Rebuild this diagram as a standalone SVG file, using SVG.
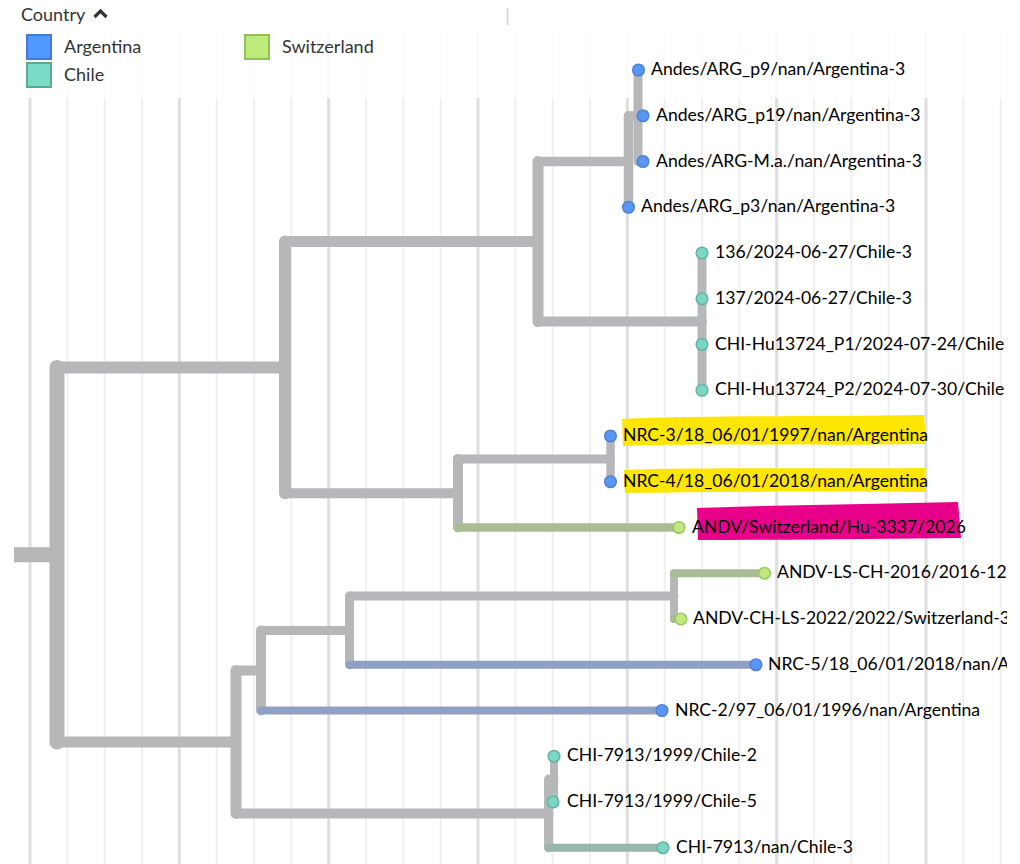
<svg xmlns="http://www.w3.org/2000/svg" width="1020" height="864" viewBox="0 0 1020 864">
<style>
.gmin{stroke:#efefef;stroke-width:2}
.gmaj{stroke:#dedede;stroke-width:3}
.br{fill:none;stroke:#b6b7b9;stroke-linecap:round;stroke-linejoin:round}
.bA{fill:none;stroke:#8ea1c4;stroke-linecap:round}
.bS{fill:none;stroke:#a9bc94;stroke-linecap:round}
.bC{fill:none;stroke:#97b7ac;stroke-linecap:round}
.tA{fill:#5a97f4;stroke:#4d82d6;stroke-width:1.5}
.tC{fill:#7bd7c3;stroke:#62b4a1;stroke-width:1.5}
.tS{fill:#bfe97c;stroke:#9cc862;stroke-width:1.5}
.lab{font-family:Lato,"Noto Sans",sans-serif;font-size:17.6px;fill:#000}
.leg{font-family:Lato,"Noto Sans",sans-serif;font-size:18px;fill:#333}
</style>
<defs>
<clipPath id="clipR"><rect x="0" y="0" width="1007" height="864"/></clipPath>
</defs>
<rect width="1020" height="864" fill="#fff"/>
<g id="grid">
<line class="gmaj" x1="30" y1="31" x2="30" y2="864"/>
<line class="gmin" x1="67.3" y1="31" x2="67.3" y2="864"/>
<line class="gmin" x1="104.7" y1="31" x2="104.7" y2="864"/>
<line class="gmin" x1="142" y1="31" x2="142" y2="864"/>
<line class="gmaj" x1="179.3" y1="31" x2="179.3" y2="864"/>
<line class="gmin" x1="216.7" y1="31" x2="216.7" y2="864"/>
<line class="gmin" x1="254" y1="31" x2="254" y2="864"/>
<line class="gmin" x1="291.3" y1="31" x2="291.3" y2="864"/>
<line class="gmaj" x1="328.7" y1="31" x2="328.7" y2="864"/>
<line class="gmin" x1="366" y1="31" x2="366" y2="864"/>
<line class="gmin" x1="403.3" y1="31" x2="403.3" y2="864"/>
<line class="gmin" x1="440.7" y1="31" x2="440.7" y2="864"/>
<line class="gmaj" x1="478" y1="31" x2="478" y2="864"/>
<line class="gmin" x1="515.3" y1="31" x2="515.3" y2="864"/>
<line class="gmin" x1="552.7" y1="31" x2="552.7" y2="864"/>
<line class="gmin" x1="590" y1="31" x2="590" y2="864"/>
<line class="gmaj" x1="627.3" y1="31" x2="627.3" y2="864"/>
<line class="gmin" x1="664.7" y1="31" x2="664.7" y2="864"/>
<line class="gmin" x1="702" y1="31" x2="702" y2="864"/>
<line class="gmin" x1="739.3" y1="31" x2="739.3" y2="864"/>
<line class="gmaj" x1="776.7" y1="31" x2="776.7" y2="864"/>
<line class="gmin" x1="814" y1="31" x2="814" y2="864"/>
<line class="gmin" x1="851.3" y1="31" x2="851.3" y2="864"/>
<line class="gmin" x1="888.7" y1="31" x2="888.7" y2="864"/>
<line class="gmaj" x1="926" y1="31" x2="926" y2="864"/>
<line class="gmin" x1="963.3" y1="31" x2="963.3" y2="864"/>
<line class="gmin" x1="1000.7" y1="31" x2="1000.7" y2="864"/>
</g>
<rect x="0" y="30" width="1020" height="68" fill="#fff" opacity="0.82"/>
<line x1="507.5" y1="8" x2="507.5" y2="25" stroke="#d0d0d0" stroke-width="1.5"/>
<g id="legend">
<text class="leg" x="21" y="21">Country</text>
<polyline points="94.5,17 100.5,11 106.5,17" fill="none" stroke="#333" stroke-width="3.2"/>
<rect x="27" y="35" width="24" height="24" fill="#5097ff" stroke="#4878d0" stroke-width="2"/>
<text class="leg" x="64" y="53">Argentina</text>
<rect x="27" y="63" width="24" height="24" fill="#7adbc6" stroke="#5ea898" stroke-width="2"/>
<text class="leg" x="64" y="81">Chile</text>
<rect x="245" y="35" width="24" height="24" fill="#bdeb79" stroke="#93c158" stroke-width="2"/>
<text class="leg" x="282" y="53">Switzerland</text>
</g>
<g id="connectors">
<path d="M14,554.7 H57" stroke="#b6b7b9" stroke-width="15" fill="none"/>
<path class="br" stroke-width="15" d="M57,367.4 V742"/>
<path class="br" stroke-width="12" d="M57,367.4 H285 M285,241.6 V493.2"/>
<path class="br" stroke-width="11" d="M285,241.6 H538 M538,161.5 V321.6"/>
<path class="br" stroke-width="9.5" d="M538,161.5 H628.5 M628.5,115.75 V207.25"/>
<path class="br" stroke-width="9" d="M628.5,115.75 H638 M638,70 V161.5 M638,115.75 H643 M638,161.5 H643"/>
<path class="br" stroke-width="10" d="M538,321.6 H702"/>
<path class="br" stroke-width="9" d="M702,253 V390.25"/>
<path class="br" stroke-width="10" d="M285,493.2 H458 M458,458.9 V527.5"/>
<path class="br" stroke-width="9" d="M458,458.9 H610.5"/>
<path class="br" stroke-width="8.5" d="M610.5,436 V481.75"/>
<path class="bS" stroke-width="8.5" d="M458,527.5 H679"/>
<path class="br" stroke-width="11" d="M57,742 H236 M236,670.5 V813.4"/>
<path class="br" stroke-width="10" d="M236,670.5 H261 M261,630.4 V710.5"/>
<path class="br" stroke-width="9" d="M261,630.4 H349.5 M349.5,596.1 V664.75"/>
<path class="br" stroke-width="9" d="M349.5,596.1 H674"/>
<path class="br" stroke-width="8" d="M674,573.25 V619"/>
<path class="bS" stroke-width="8" d="M674,573.25 H764 M674,619 H681"/>
<path class="bA" stroke-width="8" d="M349.5,664.75 H756"/>
<path class="bA" stroke-width="8" d="M261,710.5 H662"/>
<path class="br" stroke-width="10" d="M236,813.4 H548.5"/>
<path class="br" stroke-width="9" d="M548.5,779.1 V847.75 M548.5,779.1 H554"/>
<path class="br" stroke-width="8" d="M554,756.25 V802"/>
<path class="bC" stroke-width="8" d="M548.5,847.75 H663"/>
</g>
<g id="highlights">
<path d="M622,419 C700,415 820,417 924,415 L926,444 C820,446 700,443 623,446 Z" fill="#ffe600"/>
<path d="M624,470 C700,467 820,469 925,468 L926,492 C820,491 700,492 625,493 Z" fill="#ffe600"/>
<path d="M697,508 C780,505 880,504 958,502 L961,538 C880,539 780,540 698,540 Z" fill="#e8008a"/>
</g>
<g clip-path="url(#clipR)">
<g id="tip-p9"><circle class="tA" cx="638.5" cy="70" r="5.8"/><text class="lab" x="651" y="75">Andes/ARG_p9/nan/Argentina-3</text></g>
<g id="tip-p19"><circle class="tA" cx="643" cy="115.75" r="5.8"/><text class="lab" x="656" y="120.75">Andes/ARG_p19/nan/Argentina-3</text></g>
<g id="tip-ma"><circle class="tA" cx="643" cy="161.5" r="5.8"/><text class="lab" x="656" y="166.5">Andes/ARG-M.a./nan/Argentina-3</text></g>
<g id="tip-p3"><circle class="tA" cx="628.5" cy="207.25" r="5.8"/><text class="lab" x="641" y="212.25">Andes/ARG_p3/nan/Argentina-3</text></g>
<g id="tip-136"><circle class="tC" cx="702" cy="253" r="5.8"/><text class="lab" x="715" y="258">136/2024-06-27/Chile-3</text></g>
<g id="tip-137"><circle class="tC" cx="702" cy="298.75" r="5.8"/><text class="lab" x="715" y="303.75">137/2024-06-27/Chile-3</text></g>
<g id="tip-p1"><circle class="tC" cx="702" cy="344.5" r="5.8"/><text class="lab" x="715" y="349.5">CHI-Hu13724_P1/2024-07-24/Chile</text></g>
<g id="tip-p2"><circle class="tC" cx="702" cy="390.25" r="5.8"/><text class="lab" x="715" y="395.25">CHI-Hu13724_P2/2024-07-30/Chile</text></g>
<g id="tip-nrc3"><circle class="tA" cx="610.5" cy="436" r="5.8"/><text class="lab" x="623" y="441">NRC-3/18_06/01/1997/nan/Argentina</text></g>
<g id="tip-nrc4"><circle class="tA" cx="610.5" cy="481.75" r="5.8"/><text class="lab" x="623" y="486.75">NRC-4/18_06/01/2018/nan/Argentina</text></g>
<g id="tip-hu3337"><circle class="tS" cx="679" cy="527.5" r="5.8"/><text class="lab" x="692" y="532.5">ANDV/Switzerland/Hu-3337/2026</text></g>
<g id="tip-ls2016"><circle class="tS" cx="764.5" cy="573.25" r="5.8"/><text class="lab" x="777" y="578.25">ANDV-LS-CH-2016/2016-12</text></g>
<g id="tip-ls2022"><circle class="tS" cx="681" cy="619" r="5.8"/><text class="lab" x="693" y="624">ANDV-CH-LS-2022/2022/Switzerland-3</text></g>
<g id="tip-nrc5"><circle class="tA" cx="756" cy="664.75" r="5.8"/><text class="lab" x="768" y="669.75">NRC-5/18_06/01/2018/nan/Ar</text></g>
<g id="tip-nrc2"><circle class="tA" cx="662" cy="710.5" r="5.8"/><text class="lab" x="675" y="715.5">NRC-2/97_06/01/1996/nan/Argentina</text></g>
<g id="tip-chi2"><circle class="tC" cx="554" cy="756.25" r="5.8"/><text class="lab" x="567" y="761.25">CHI-7913/1999/Chile-2</text></g>
<g id="tip-chi5"><circle class="tC" cx="553" cy="802" r="5.8"/><text class="lab" x="567" y="807">CHI-7913/1999/Chile-5</text></g>
<g id="tip-chi3"><circle class="tC" cx="663" cy="847.75" r="5.8"/><text class="lab" x="676" y="852.75">CHI-7913/nan/Chile-3</text></g>
</g>
</svg>
